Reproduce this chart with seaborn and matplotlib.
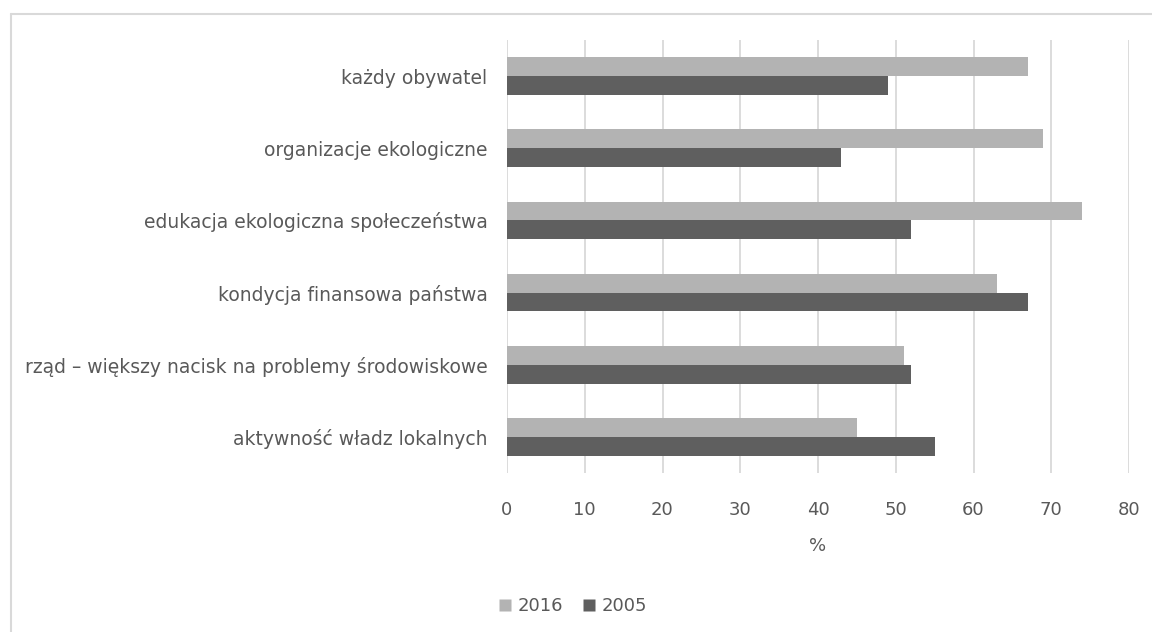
import pandas as pd
import seaborn as sns
import matplotlib.pyplot as plt
from matplotlib.lines import Line2D

# values (%)
categories = [
    'każdy obywatel',
    'organizacje ekologiczne',
    'edukacja ekologiczna społeczeństwa',
    'kondycja finansowa państwa',
    'rząd – większy nacisk na problemy środowiskowe',
    'aktywność władz lokalnych',
]
years = ['2016', '2005']
values_2016 = [67, 69, 74, 63, 51, 45]
values_2005 = [49, 43, 52, 67, 52, 55]
x_ticks = [0, 10, 20, 30, 40, 50, 60, 70, 80]

df = pd.DataFrame({
    'category': categories * 2,
    'year': [years[0]] * len(categories) + [years[1]] * len(categories),
    'value': values_2016 + values_2005,
})

sns.set_theme(style='white')
plt.rcParams['font.family'] = ['DejaVu Sans']
text_color = '#595959'
grid_color = '#d9d9d9'

fig = plt.figure(figsize=(11.52, 6.32), dpi=100)
ax = fig.add_axes([507 / 1152, 1 - 473 / 632, (1129 - 507) / 1152, (473 - 40) / 632])

sns.barplot(
    data=df, x='value', y='category', hue='year',
    hue_order=years, order=categories,
    palette=['#b3b3b3', '#5f5f5f'],
    width=0.52, gap=0, orient='h', legend=False, ax=ax,
    linewidth=0, edgecolor='none',
)

ax.set_xlim(0, 80)
ax.set_xticks(x_ticks)
ax.set_ylim(len(categories) - 0.5, -0.5)
ax.xaxis.grid(True, color=grid_color, linewidth=1.3)
ax.set_axisbelow(True)
for s in ax.spines.values():
    s.set_visible(False)

ax.tick_params(axis='x', length=0, pad=20, labelsize=13, labelcolor=text_color)
ax.tick_params(axis='y', length=0, pad=14, labelsize=13.5, labelcolor=text_color)
ax.set_ylabel('')
ax.set_xlabel('%', fontsize=13, color=text_color, labelpad=13)

handles = [
    Line2D([], [], marker='s', linestyle='none', markersize=8,
           markerfacecolor='#b3b3b3', markeredgecolor='none'),
    Line2D([], [], marker='s', linestyle='none', markersize=8,
           markerfacecolor='#5f5f5f', markeredgecolor='none'),
]
fig.legend(handles, years, loc='center', bbox_to_anchor=(0.497, 1 - 606 / 632),
           ncol=2, frameon=False, fontsize=13, labelcolor=text_color,
           handlelength=0.8, handletextpad=0.3, columnspacing=1.0)

# chart-area border (runs off the right and bottom edges)
fig.add_artist(Line2D([11 / 1152, 1.0], [1 - 14 / 632] * 2,
                      transform=fig.transFigure, color=grid_color, linewidth=1.5))
fig.add_artist(Line2D([11 / 1152] * 2, [0.0, 1 - 14 / 632],
                      transform=fig.transFigure, color=grid_color, linewidth=1.5))

fig.savefig('out.png', dpi=100, facecolor='white')
